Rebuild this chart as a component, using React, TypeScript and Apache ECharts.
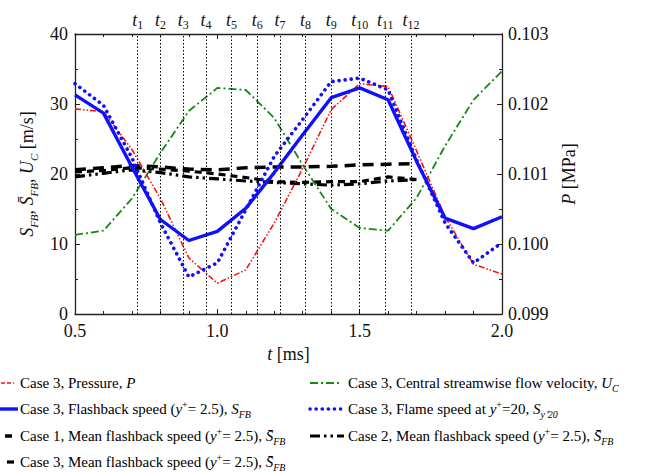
import React, { useEffect, useRef } from "react";
import * as echarts from "echarts";

const FONT = "Liberation Serif";

// time (ms)
const T = [0.5, 0.6, 0.7, 0.8, 0.9, 1.0, 1.1, 1.2, 1.3, 1.4, 1.5, 1.6, 1.7, 1.8, 1.9, 2.0];
// Case 3 flashback speed S_FB (m/s)
const S_FB = [31.3, 28.7, 21.0, 13.5, 10.5, 11.8, 15.1, 20.2, 25.6, 30.9, 32.3, 30.6, 21.8, 13.7, 12.2, 13.9];
// Case 3 flame speed at y+=20 (m/s)
const S_Y20 = [32.9, 29.8, 22.3, 13.0, 5.3, 7.3, 14.9, 22.5, 27.8, 33.2, 33.7, 32.0, 22.0, 13.0, 7.3, 10.2];
// Case 3 central streamwise velocity U_C (m/s)
const U_C = [11.3, 11.9, 16.5, 23.0, 29.0, 32.3, 32.0, 28.0, 21.3, 15.0, 12.3, 11.9, 16.6, 24.0, 30.6, 34.7];
// Case 3 pressure (MPa)
const P = [0.10193, 0.10189, 0.10135, 0.10065, 0.0998, 0.09944, 0.09963, 0.1003, 0.10108, 0.10192, 0.10229, 0.10225, 0.10133, 0.10039, 0.09971, 0.09957];
// mean flashback speeds (m/s), 0.5 .. 1.7 ms
const T_MEAN = [0.5, 0.6, 0.7, 0.8, 0.9, 1.0, 1.1, 1.2, 1.3, 1.4, 1.5, 1.6, 1.7];
const MEAN_C1 = [20.6, 20.9, 21.2, 21.0, 20.7, 20.6, 20.9, 21.0, 21.0, 21.1, 21.3, 21.4, 21.5];
const MEAN_C2 = [19.6, 20.1, 20.6, 20.2, 19.6, 19.3, 19.0, 18.8, 18.6, 18.4, 18.6, 19.0, 19.2];
const MEAN_C3 = [20.3, 20.5, 20.9, 20.7, 20.4, 20.0, 19.5, 18.9, 18.8, 18.9, 18.9, 19.6, 19.2];
// instants t1..t12 (ms)
const T_MARKS = [0.722, 0.801, 0.878, 0.958, 1.047, 1.136, 1.22, 1.309, 1.399, 1.5, 1.592, 1.678];

const SBAR = "S\u0304";
const LEGEND_TEXT: Record<string, string> = {
  P: "Case 3, Pressure, {i|P}",
  UC: "Case 3, Central streamwise flow velocity, {i|U}{sub|C}",
  SFB: "Case 3, Flashback speed ({i|y}{sup|+}= 2.5), {i|S}{sub|FB}",
  SY20: "Case 3, Flame speed at {i|y}{sup|+}=20, {i|S}{sub|y\u207A20}",
  M1: `Case 1, Mean flashback speed ({i|y}{sup|+}= 2.5), {i|${SBAR}}{sub|FB}`,
  M2: `Case 2, Mean flashback speed ({i|y}{sup|+}= 2.5), {i|${SBAR}}{sub|FB}`,
  M3: `Case 3, Mean flashback speed ({i|y}{sup|+}= 2.5), {i|${SBAR}}{sub|FB}`,
};

const COLORS: Record<string, string> = {
  P: "#ff1010",
  UC: "#138a13",
  SFB: "#1010ff",
  SY20: "#1010ff",
  M1: "#000",
  M2: "#000",
  M3: "#000",
};
const WIDTHS: Record<string, number> = { P: 1.6, UC: 1.8, SFB: 3.4, SY20: 3.6, M1: 3.5, M2: 3.2, M3: 3.2 };
const DASHES: Record<string, any> = {
  P: [6, 2, 1.5, 2, 1.5, 2],
  UC: [8, 3, 2, 3],
  SFB: "solid",
  SY20: [0.1, 6],
  M1: [11, 7],
  M2: [10, 4, 2.5, 4, 2.5, 4],
  M3: [7, 5],
};

const pairs = (xs: number[], ys: number[]) => xs.map((x, i) => [x, ys[i]]);

const LFS = 15;
const richLegend = {
  i: { fontFamily: FONT, fontSize: LFS, fontStyle: "italic", lineHeight: 20, fill: "#000" },
  sub: { fontFamily: FONT, fontSize: 10, fontStyle: "italic", lineHeight: 12, verticalAlign: "bottom", fill: "#000" },
  sup: { fontFamily: FONT, fontSize: 10, lineHeight: 12, verticalAlign: "top", fill: "#000" },
};

export default function App() {
  const ref = useRef<HTMLDivElement>(null);
  useEffect(() => {
    if (!ref.current) return;
    const chart = echarts.init(ref.current, null, { renderer: "svg" });
    const axisLine = { show: true, lineStyle: { color: "#222", width: 1.3 } };
    const tick = { show: true, inside: true, length: 5, lineStyle: { color: "#222", width: 1 } };
    const minor = (n: number) => ({ show: true, splitNumber: n, length: 3, lineStyle: { color: "#222", width: 1 } });
    const labelStyle = { fontFamily: FONT, fontSize: 18, color: "#111" };

    // legend drawn as graphic items: [key, iconX1, iconX2, textX, y]
    const legendLayout: [string, number, number, number, number][] = [
      ["P", 1, 14, 20, 383],
      ["UC", 310, 342, 348, 383],
      ["SFB", 0, 18, 20, 409],
      ["SY20", 310, 342, 348, 409],
      ["M1", 5, 12, 20, 436],
      ["M2", 310, 344, 348, 436],
      ["M3", 7, 14, 20, 462],
    ];
    const graphic: any[] = [];
    legendLayout.forEach(([k, x1, x2, tx, y]) => {
      const dash = DASHES[k];
      graphic.push({
        type: "line",
        silent: true,
        shape: { x1, y1: y, x2, y2: y },
        style: {
          stroke: COLORS[k],
          lineWidth: WIDTHS[k],
          lineDash: Array.isArray(dash) ? (k === "P" ? [4, 2] : k === "M1" || k === "M3" ? null : dash) : null,
          lineCap: k === "SY20" ? "round" : "butt",
        },
      });
      graphic.push({
        type: "text",
        silent: true,
        x: tx,
        y,
        style: {
          text: LEGEND_TEXT[k],
          fontFamily: FONT,
          fontSize: LFS,
          fill: "#000",
          verticalAlign: "middle",
          align: "left",
          lineHeight: 20,
          rich: richLegend,
        },
      });
    });

    const mkSeries = (k: string, xs: number[], ys: number[], extra: any = {}) => ({
      name: k,
      type: "line",
      data: pairs(xs, ys),
      symbol: "none",
      lineStyle: { color: COLORS[k], width: WIDTHS[k], type: DASHES[k], cap: k === "SY20" ? "round" : "butt" },
      ...extra,
    });

    const option: any = {
      animation: false,
      grid: { left: 75, right: 146, top: 34, bottom: 158 },
      graphic,
      xAxis: [
        {
          type: "value",
          min: 0.5,
          max: 2.0,
          interval: 0.5,
          axisLine,
          axisTick: tick,
          minorTick: minor(5),
          splitLine: { show: false },
          axisLabel: { ...labelStyle, margin: 8, formatter: (v: number) => v.toFixed(1) },
          name: "{i|t} [ms]",
          nameLocation: "middle",
          nameGap: 30,
          nameTextStyle: {
            ...labelStyle,
            rich: { i: { ...labelStyle, fontStyle: "italic" } },
          },
        },
        {
          type: "value",
          position: "top",
          min: 0.5,
          max: 2.0,
          interval: 0.5,
          axisLine,
          axisTick: tick,
          minorTick: minor(5),
          splitLine: { show: false },
          axisLabel: { show: false },
        },
      ],
      yAxis: [
        {
          type: "value",
          min: 0,
          max: 40,
          interval: 10,
          axisLine,
          axisTick: tick,
          minorTick: minor(2),
          splitLine: { show: false },
          axisLabel: { ...labelStyle, margin: 7 },
          name: `{i|S}{sub|FB}, {i|${SBAR}}{sub|FB}, {i|U}{sub|C} [m/s]`,
          nameLocation: "middle",
          nameRotate: 90,
          nameGap: 35,
          nameTextStyle: {
            ...labelStyle,
            lineHeight: 24,
            rich: {
              i: { ...labelStyle, fontStyle: "italic", lineHeight: 24 },
              sub: { fontFamily: FONT, fontSize: 11, fontStyle: "italic", lineHeight: 14, verticalAlign: "bottom", color: "#111" },
            },
          },
        },
        {
          type: "value",
          position: "right",
          min: 0.099,
          max: 0.103,
          interval: 0.001,
          axisLine,
          axisTick: tick,
          minorTick: minor(2),
          splitLine: { show: false },
          axisLabel: { ...labelStyle, margin: 6, formatter: (v: number) => v.toFixed(3) },
          name: "{i|P} [MPa]",
          nameLocation: "middle",
          nameRotate: 90,
          nameGap: 58,
          nameTextStyle: {
            ...labelStyle,
            rich: { i: { ...labelStyle, fontStyle: "italic" } },
          },
        },
      ],
      series: [
        mkSeries("M1", T_MEAN, MEAN_C1, {
          markLine: {
            silent: true,
            symbol: "none",
            lineStyle: { color: "#000", width: 1, type: [1.5, 2] },
            label: {
              show: true,
              position: "end",
              distance: 3,
              rich: {
                t: { fontFamily: FONT, fontSize: 18, fontStyle: "italic", lineHeight: 22, color: "#111" },
                s: { fontFamily: FONT, fontSize: 12, lineHeight: 12, verticalAlign: "bottom", color: "#111" },
              },
            },
            data: T_MARKS.map((v, i) => ({
              xAxis: v,
              label: { formatter: `{t|t}{s|${i + 1}}` },
            })),
          },
        }),
        mkSeries("M2", T_MEAN, MEAN_C2),
        mkSeries("M3", T_MEAN, MEAN_C3),
        mkSeries("UC", T, U_C),
        mkSeries("P", T, P, { yAxisIndex: 1 }),
        mkSeries("SY20", T, S_Y20),
        mkSeries("SFB", T, S_FB),
      ],
    };
    chart.setOption(option);
    return () => chart.dispose();
  }, []);
  return (
    <div
      ref={ref}
      style={{ position: "fixed", left: 0, top: 0, width: 648, height: 472, background: "#fff" }}
    />
  );
}
